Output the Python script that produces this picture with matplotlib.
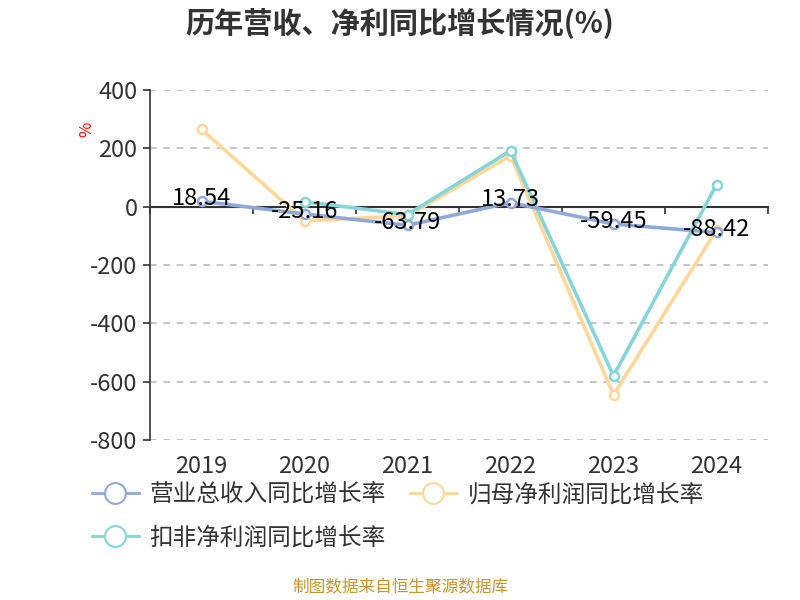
import matplotlib
matplotlib.use("Agg")
import matplotlib.pyplot as plt
from matplotlib.lines import Line2D
import numpy as np

plt.rcParams['font.family'] = ['Noto Sans CJK SC', 'DejaVu Sans']
plt.rcParams['axes.unicode_minus'] = False

years = ["2019", "2020", "2021", "2022", "2023", "2024"]
revenue = [18.54, -25.16, -63.79, 13.73, -59.45, -88.42]
net_profit = [265, -48, -32, 175, -645, -80]
deducted = [None, 17, -27, 192, -580, 75]

c_rev = "#8eaadb"
c_net = "#ffd899"
c_ded = "#86d5d8"
dark = "#333333"

fig = plt.figure(figsize=(8, 6), dpi=100)
ax = fig.add_axes([0.1875, 0.2667, 0.7725, 0.5833])

x = np.arange(len(years))


def draw(vals, color, z):
    xs = [i for i, v in zip(x, vals) if v is not None]
    ys = [v for v in vals if v is not None]
    ax.plot(xs, ys, color=color, lw=2.6, marker="o", ms=6.5, mfc="white",
            mec=color, mew=1.8, zorder=z, clip_on=False)


draw(net_profit, c_net, 3)
draw(deducted, c_ded, 4)
draw(revenue, c_rev, 5)

for i, v in zip(x, revenue):
    ax.annotate(f"{v:.2f}", (i, v), xytext=(0, 2), textcoords="offset points",
                ha="center", va="center", fontsize=17, color="black", zorder=6)

ax.set_xlim(-0.5, len(years) - 0.5)
ax.set_ylim(-800, 400)
ax.set_yticks(np.arange(-800, 401, 200))
ax.tick_params(axis="y", labelsize=17, colors=dark, length=5, width=1.2, pad=4)
ax.grid(axis="y", color="#bbbbbb", ls=(0, (4, 4)), lw=1.2)
ax.set_axisbelow(True)

for s in ["top", "right"]:
    ax.spines[s].set_visible(False)
ax.spines["left"].set_color(dark)
ax.spines["left"].set_linewidth(1.2)
ax.spines["bottom"].set_position(("data", 0))
ax.spines["bottom"].set_color(dark)
ax.spines["bottom"].set_linewidth(1.5)
ax.set_xticks(np.arange(-0.5, len(years)), minor=True)
ax.set_xticks([])
ax.tick_params(axis="x", which="minor", length=5, width=1.2, colors=dark)

sec = ax.secondary_xaxis("bottom")
sec.set_xticks(x)
sec.set_xticklabels(years)
sec.tick_params(axis="x", length=0, labelsize=17, colors=dark, pad=11)
sec.spines["bottom"].set_visible(False)

fig.text(0.108, 0.785, "%", color="red", fontsize=12, rotation=90,
         ha="center", va="center")

fig.text(0.5, 0.96, "历年营收、净利同比增长情况(%)", ha="center", va="center",
         fontsize=21, fontweight="bold", color=dark)

handles = [
    Line2D([], [], color=c_rev, lw=2, marker="o", ms=15, mfc="white", mec=c_rev, mew=1.5),
    Line2D([], [], color=c_ded, lw=2, marker="o", ms=15, mfc="white", mec=c_ded, mew=1.5),
    Line2D([], [], color=c_net, lw=2, marker="o", ms=15, mfc="white", mec=c_net, mew=1.5),
]
labels = ["营业总收入同比增长率", "扣非净利润同比增长率", "归母净利润同比增长率"]
fig.legend(handles, labels, loc="upper left", bbox_to_anchor=(0.103, 0.21),
           ncol=2, frameon=False, fontsize=17, labelcolor=dark,
           handlelength=2.0, handletextpad=0.45, columnspacing=1.0,
           labelspacing=0.85, borderaxespad=0)

fig.text(0.5, 0.02, "制图数据来自恒生聚源数据库", ha="center", va="center",
         fontsize=12, color="#c8962a")

fig.savefig("out.png", dpi=100)
